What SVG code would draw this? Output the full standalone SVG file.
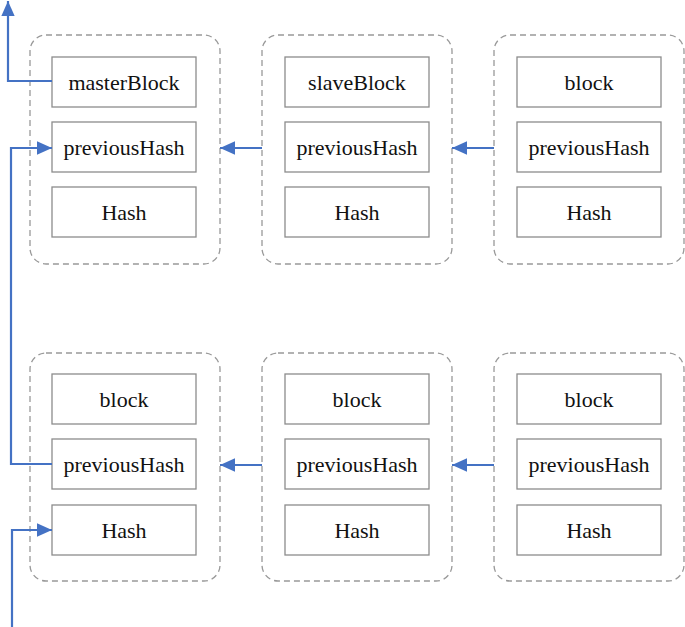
<svg xmlns="http://www.w3.org/2000/svg" width="685" height="627" viewBox="0 0 685 627">
<defs>
<style>
.cont{fill:none;stroke:#999;stroke-width:1.3;stroke-dasharray:6,4}
.box{fill:#fff;stroke:#8c8c8c;stroke-width:1.3}
.lbl{font-family:"Liberation Serif","Times New Roman",serif;font-size:22px;fill:#111;text-anchor:middle;dominant-baseline:central}
.conn{fill:none;stroke:#4472c4;stroke-width:2.2}
</style>
<marker id="ah" viewBox="0 0 10 10" refX="10" refY="5" markerWidth="7" markerHeight="6.2" markerUnits="strokeWidth" orient="auto" preserveAspectRatio="none">
<path d="M0,0 L10,5 L0,10 z" fill="#4472c4"/>
</marker>
</defs>
<rect width="685" height="627" fill="#fff"/>
<g id="block-top-1">
<rect class="cont" x="30" y="35" width="190" height="229" rx="16"/>
<rect class="box" x="52" y="57" width="144" height="50"/><text class="lbl" x="124" y="82">masterBlock</text>
<rect class="box" x="52" y="122" width="144" height="50"/><text class="lbl" x="124" y="147">previousHash</text>
<rect class="box" x="52" y="187" width="144" height="50"/><text class="lbl" x="124" y="212">Hash</text>
</g>
<g id="block-top-2">
<rect class="cont" x="262" y="35" width="190" height="229" rx="16"/>
<rect class="box" x="285" y="57" width="144" height="50"/><text class="lbl" x="357" y="82">slaveBlock</text>
<rect class="box" x="285" y="122" width="144" height="50"/><text class="lbl" x="357" y="147">previousHash</text>
<rect class="box" x="285" y="187" width="144" height="50"/><text class="lbl" x="357" y="212">Hash</text>
</g>
<g id="block-top-3">
<rect class="cont" x="494" y="35" width="190" height="229" rx="16"/>
<rect class="box" x="517" y="57" width="144" height="50"/><text class="lbl" x="589" y="82">block</text>
<rect class="box" x="517" y="122" width="144" height="50"/><text class="lbl" x="589" y="147">previousHash</text>
<rect class="box" x="517" y="187" width="144" height="50"/><text class="lbl" x="589" y="212">Hash</text>
</g>
<g id="block-bot-1">
<rect class="cont" x="30" y="353" width="190" height="228" rx="16"/>
<rect class="box" x="52" y="374" width="144" height="50"/><text class="lbl" x="124" y="399">block</text>
<rect class="box" x="52" y="439" width="144" height="50"/><text class="lbl" x="124" y="464">previousHash</text>
<rect class="box" x="52" y="505" width="144" height="50"/><text class="lbl" x="124" y="530">Hash</text>
</g>
<g id="block-bot-2">
<rect class="cont" x="262" y="353" width="190" height="228" rx="16"/>
<rect class="box" x="285" y="374" width="144" height="50"/><text class="lbl" x="357" y="399">block</text>
<rect class="box" x="285" y="439" width="144" height="50"/><text class="lbl" x="357" y="464">previousHash</text>
<rect class="box" x="285" y="505" width="144" height="50"/><text class="lbl" x="357" y="530">Hash</text>
</g>
<g id="block-bot-3">
<rect class="cont" x="494" y="353" width="190" height="228" rx="16"/>
<rect class="box" x="517" y="374" width="144" height="50"/><text class="lbl" x="589" y="399">block</text>
<rect class="box" x="517" y="439" width="144" height="50"/><text class="lbl" x="589" y="464">previousHash</text>
<rect class="box" x="517" y="505" width="144" height="50"/><text class="lbl" x="589" y="530">Hash</text>
</g>
<g id="connectors">
<path class="conn" d="M52,81 H8 V1" marker-end="url(#ah)"/>
<path class="conn" d="M52,464 H11 V148 H52" marker-end="url(#ah)"/>
<path class="conn" d="M12,627 V530 H52" marker-end="url(#ah)"/>
<path class="conn" d="M262,148 H220" marker-end="url(#ah)"/>
<path class="conn" d="M494,148 H452" marker-end="url(#ah)"/>
<path class="conn" d="M262,465 H220" marker-end="url(#ah)"/>
<path class="conn" d="M494,465 H452" marker-end="url(#ah)"/>
</g>
</svg>
